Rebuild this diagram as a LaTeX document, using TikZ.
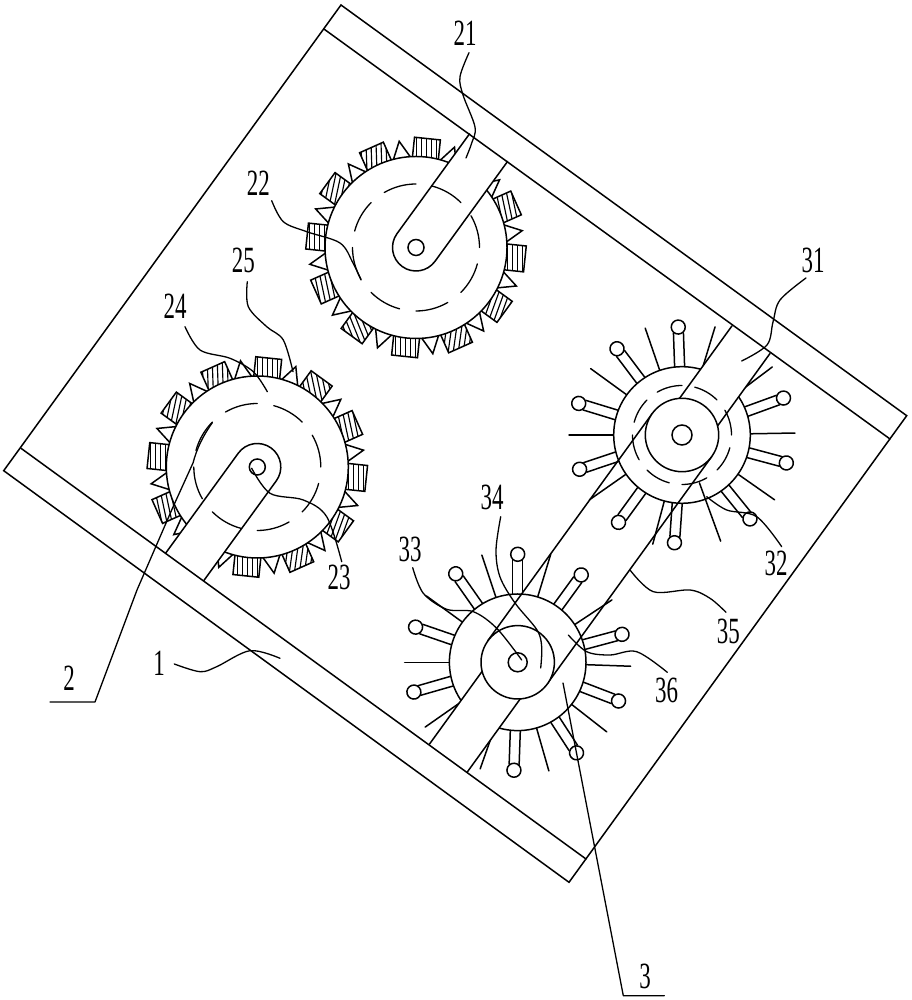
\documentclass[tikz,border=0pt]{standalone}
\usepackage{fontspec}
\setmainfont{Liberation Serif}
\tikzset{
  lw/.style={line width=1.5pt,black,line join=miter,line cap=round},
  hatchline/.style={line width=1.15pt,black},
  thinline/.style={line width=1.3pt,black,line join=round,line cap=round},
  px/.style={x=1pt,y=-1pt,yshift=1000pt},
  lab/.style={font=\fontsize{37}{37}\selectfont,xscale=.62,inner sep=0pt,text=black},
  leader/.style={thinline,smooth,tension=.55},
  wheelat/.style n args={2}{x=1pt,y=1pt,xshift=#1 pt,yshift=1000pt-#2 pt}
}
% dashed track ring
\newcommand{\trackring}[1]{%
  \foreach \s in {0,45,...,315}{
    \pgfmathsetmacro{\ex}{\s+30}
    \draw[thinline] (\s:#1) arc[start angle=\s,end angle=\ex,radius=#1];
  }}
% toothed wheel: centre, arm angle, arm length
\newcommand{\toothedwheel}[4]{%
  \begin{scope}[wheelat={#1}{#2}]
    \foreach \a/\t in {24/12,54/12,84/0,114/2,144/-12,174/0,204/12,234/22,264/0,294/-8,324/-20,354/0}{
      \pgfmathsetmacro{\hr}{90+\t-\a}
      \begin{scope}[rotate=\a]
        \fill[white] (85,-13) rectangle (109.5,13);
        \begin{scope}
          \clip (85,-13) rectangle (109.5,13);
          \begin{scope}[shift={(97,0)},rotate=\hr]
            \foreach \h in {-20,-15,...,20}{\draw[hatchline] (-30,\h) -- (30,\h);}
          \end{scope}
        \end{scope}
        \draw[lw] (85,-13) rectangle (109.5,13);
      \end{scope}
      \pgfmathsetmacro{\b}{\a+15}
      \begin{scope}[rotate=\b]
        \draw[lw,fill=white] (88.5,-9.5) -- (107.5,0) -- (88.5,9.5) -- cycle;
      \end{scope}
    }
    \draw[lw,fill=white] (0,0) circle[radius=91];
    \begin{scope}[rotate=#3]
      \fill[white] (#4,-23.5) -- (0,-23.5) arc[start angle=-90,end angle=-270,radius=23.5] -- (#4,23.5) -- cycle;
      \draw[lw] (#4,-23.5) -- (0,-23.5) arc[start angle=-90,end angle=-270,radius=23.5] -- (#4,23.5);
    \end{scope}
    \trackring{63.5}
    \draw[lw] (0,0) circle[radius=8];
  \end{scope}}
% spiked wheel: centre, lollipop angles, spike angles
\newcommand{\spikedwheel}[4]{%
  \begin{scope}[wheelat={#1}{#2}]
    \foreach \a in {#3}{
      \begin{scope}[rotate=\a]
        \draw[lw] (66,-5) -- (102,-5) (66,5) -- (102,5);
        \draw[lw,fill=white] (108,0) circle[radius=7];
      \end{scope}
    }
    \foreach \a in {#4}{\draw[lw] (\a:67) -- (\a:113);}
    \draw[lw,fill=white] (0,0) circle[radius=68.3];
  \end{scope}}
\newcommand{\armcover}[4]{%
  \begin{scope}[wheelat={#1}{#2},rotate=#3]
    \fill[white] (0,-23.5) rectangle (#4,23.5);
    \draw[lw] (0,-23.5) -- (#4,-23.5) (0,23.5) -- (#4,23.5);
  \end{scope}}
\begin{document}
\begin{tikzpicture}[x=1pt,y=1pt]
\useasboundingbox (0,0) rectangle (911,1000);
\fill[white] (0,0) rectangle (911,1000);

% toothed wheels
\toothedwheel{416}{247.5}{54}{123.4}
\toothedwheel{257.3}{467}{234}{123.4}

% spiked wheels
\spikedwheel{682}{435}{92,127,163,198.5,234,266,309,345,20}{1,37,73,109,144,180,215,255,325}
\spikedwheel{517.7}{662.3}{90,125,161,196,268,303,339,15,54}{108.5,144,180,215,250.6,286,322,-2,33.5,73}
\armcover{682}{435}{54.1}{117.7}
\armcover{517.7}{662.3}{234.1}{118}
\begin{scope}[wheelat={682}{435}]
  \trackring{49.5}
  \draw[lw] (290:51) -- (290:113);
  \begin{scope}[rotate=234.1]
    \draw[lw] (0,-36.7) -- (280.5,-36.7) (0,36.7) -- (280.5,36.7);
  \end{scope}
  \draw[lw,fill=white] (0,0) circle[radius=36.7];
  \draw[lw] (0,0) circle[radius=10];
\end{scope}
\begin{scope}[wheelat={517.7}{662.3}]
  \draw[lw,fill=white] (0,0) circle[radius=36.7];
  \draw[lw] (0,0) circle[radius=9.5];
\end{scope}

\begin{scope}[px]
% frame
\draw[lw] (341,5) -- (906.7,415.7) -- (569,882.3) -- (3.7,470.7) -- cycle;
\draw[lw] (324.3,29.3) -- (890,439);
\draw[lw] (21,448.3) -- (586,859);

% labels
\node[lab] (l21) at (465,33) {21};
\node[lab] (l22) at (258.3,183.3) {22};
\node[lab] (l25) at (243.3,260) {25};
\node[lab] (l24) at (175,306.7) {24};
\node[lab] (l23) at (339,577) {23};
\node[lab] (l31) at (813,260.7) {31};
\node[lab] (l32) at (776,563) {32};
\node[lab] (l33) at (410,549) {33};
\node[lab] (l34) at (492,497) {34};
\node[lab] (l35) at (728.3,631.7) {35};
\node[lab] (l36) at (666.7,690) {36};
\node[lab] (l1) at (159,663) {1};
\node[lab] (l2) at (69,678) {2};
\node[lab] (l3) at (645,976) {3};

% leaders
\draw[leader] plot coordinates {(469,52.7) (460,76.7) (463,95) (475,127) (471.7,143) (466,158)};
\draw[leader] plot coordinates {(271.7,200.7) (283.3,221.7) (306.7,231.7) (340,243) (353,263) (361,280)};
\draw[leader] plot coordinates {(247.3,281.7) (248.3,306.7) (266.7,326.7) (283.3,340) (293,371.7)};
\draw[leader] plot coordinates {(185,326.7) (200,350) (230,358.3) (253.3,371.7) (267.3,391.7)};
\draw[leader] plot coordinates {(251.7,468.3) (270,493.3) (303.3,500) (326.7,516.7) (341.7,561.7)};
\draw[leader] plot coordinates {(806,278) (780,300) (773,322) (767,345) (741.7,361)};
\draw[leader] plot coordinates {(706.7,496.7) (726.7,510) (756.7,516.7) (781.7,546.7)};
\draw[leader] plot coordinates {(412.7,567.7) (423.3,593.3) (446.7,609.3) (473.3,611.7) (496.7,628.3) (521.7,660)};
\draw[leader] plot coordinates {(500.7,516.7) (496,550) (500,577) (515,603) (537,630) (541.7,647) (540.7,668)};
\draw[leader] plot coordinates {(630,570) (653.3,591.7) (690,590) (710,598.3) (726,612.3)};
\draw[leader] plot coordinates {(568.3,635) (586.7,651.7) (610,655) (636.7,651.7) (667.3,672.3)};
\draw[leader] plot coordinates {(174.3,664) (200,671.7) (216.7,666.7) (250,650.7) (280,658.3)};
\draw[thinline] (50,702) -- (95,702) -- (137,590) -- (173,507) -- (193,463) .. controls (197,448) and (203,436) .. (212.3,422.7);
\draw[thinline] (664.3,995.7) -- (623.3,995.7) -- (581.7,780) -- (563,683);
\end{scope}
\end{tikzpicture}
\end{document}
